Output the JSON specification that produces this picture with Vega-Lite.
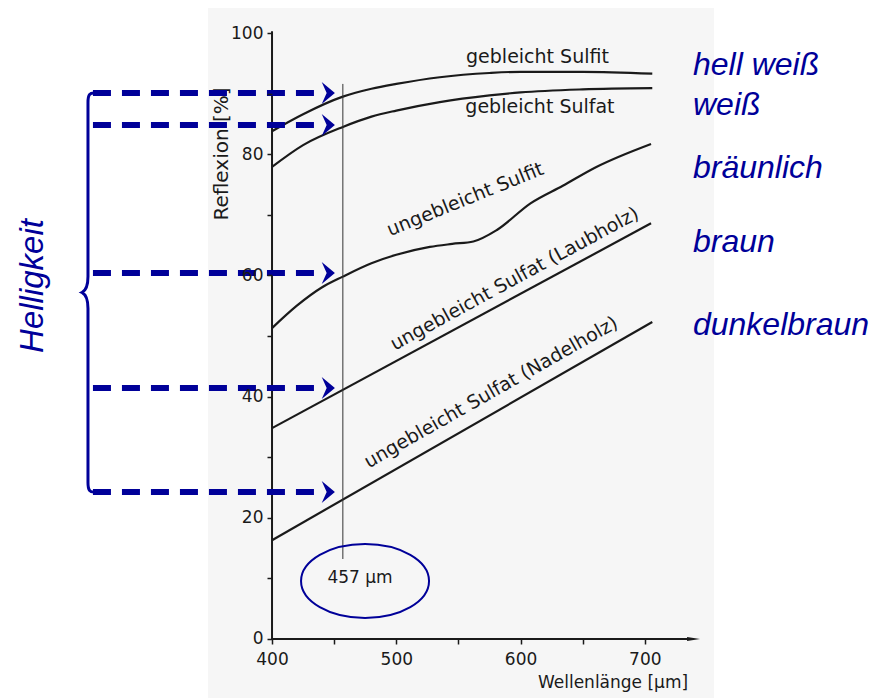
{
  "$schema": "https://vega.github.io/schema/vega-lite/v6.json",
  "width": 870,
  "height": 698,
  "padding": 0,
  "autosize": {"type": "fit", "contains": "padding"},
  "background": "white",
  "view": {"stroke": null},
  "datasets": {
    "curves": [
      {"series": "gebleicht Sulfit", "x": 400, "y": 83.8},
      {"series": "gebleicht Sulfit", "x": 425, "y": 86.6},
      {"series": "gebleicht Sulfit", "x": 457, "y": 89.5},
      {"series": "gebleicht Sulfit", "x": 480, "y": 90.8},
      {"series": "gebleicht Sulfit", "x": 500, "y": 91.6},
      {"series": "gebleicht Sulfit", "x": 535, "y": 92.7},
      {"series": "gebleicht Sulfit", "x": 575, "y": 93.4},
      {"series": "gebleicht Sulfit", "x": 600, "y": 93.6},
      {"series": "gebleicht Sulfit", "x": 650, "y": 93.6},
      {"series": "gebleicht Sulfit", "x": 706, "y": 93.3},
      {"series": "gebleicht Sulfat", "x": 400, "y": 77.9},
      {"series": "gebleicht Sulfat", "x": 425, "y": 81.5},
      {"series": "gebleicht Sulfat", "x": 457, "y": 84.5},
      {"series": "gebleicht Sulfat", "x": 480, "y": 86.2},
      {"series": "gebleicht Sulfat", "x": 500, "y": 87.2},
      {"series": "gebleicht Sulfat", "x": 535, "y": 88.6},
      {"series": "gebleicht Sulfat", "x": 575, "y": 89.7},
      {"series": "gebleicht Sulfat", "x": 600, "y": 90.2},
      {"series": "gebleicht Sulfat", "x": 650, "y": 90.7},
      {"series": "gebleicht Sulfat", "x": 706, "y": 90.9},
      {"series": "ungebleicht Sulfit", "x": 400, "y": 51.3},
      {"series": "ungebleicht Sulfit", "x": 420, "y": 55.0},
      {"series": "ungebleicht Sulfit", "x": 440, "y": 58.0},
      {"series": "ungebleicht Sulfit", "x": 457, "y": 59.8},
      {"series": "ungebleicht Sulfit", "x": 480, "y": 62.0},
      {"series": "ungebleicht Sulfit", "x": 500, "y": 63.4},
      {"series": "ungebleicht Sulfit", "x": 527, "y": 64.7},
      {"series": "ungebleicht Sulfit", "x": 545, "y": 65.2},
      {"series": "ungebleicht Sulfit", "x": 562, "y": 65.6},
      {"series": "ungebleicht Sulfit", "x": 581, "y": 67.5},
      {"series": "ungebleicht Sulfit", "x": 608, "y": 71.9},
      {"series": "ungebleicht Sulfit", "x": 634, "y": 74.8},
      {"series": "ungebleicht Sulfit", "x": 661, "y": 77.9},
      {"series": "ungebleicht Sulfit", "x": 705, "y": 81.7},
      {"series": "ungebleicht Sulfat (Laubholz)", "x": 400, "y": 34.8},
      {"series": "ungebleicht Sulfat (Laubholz)", "x": 705, "y": 68.6},
      {"series": "ungebleicht Sulfat (Nadelholz)", "x": 400, "y": 16.3},
      {"series": "ungebleicht Sulfat (Nadelholz)", "x": 706, "y": 52.3}
    ],
    "arrows": [
      {"color": "hell weiß", "x": 255.9, "x2": 433.8, "xh": 445.3, "y": 90.1},
      {"color": "weiß", "x": 255.9, "x2": 433.8, "xh": 445.3, "y": 84.82},
      {"color": "bräunlich", "x": 255.9, "x2": 433.8, "xh": 445.3, "y": 60.4},
      {"color": "braun", "x": 255.9, "x2": 433.8, "xh": 445.3, "y": 41.42},
      {"color": "dunkelbraun", "x": 255.9, "x2": 433.8, "xh": 445.3, "y": 24.26}
    ],
    "colorLabels": [
      {"text": "hell weiß", "x": 738.75, "y": 93.07},
      {"text": "weiß", "x": 738.75, "y": 86.47},
      {"text": "bräunlich", "x": 738.75, "y": 76.08},
      {"text": "braun", "x": 738.75, "y": 63.86},
      {"text": "dunkelbraun", "x": 738.75, "y": 50.17}
    ]
  },
  "encoding": {
    "x": {
      "field": "x", "type": "quantitative",
      "scale": {"domain": [181.1, 881.2], "nice": false, "zero": false},
      "axis": {
        "orient": "bottom", "offset": -59, "domain": false, "grid": false, "title": null,
        "values": [400, 450, 500, 550, 600, 650, 700],
        "labelExpr": "datum.value % 100 === 0 ? datum.label : ''",
        "tickSize": 5, "tickWidth": 1.5, "tickColor": "#1a1a1a",
        "labelFont": "DejaVu Sans", "labelFontSize": 17, "labelColor": "#1a1a1a",
        "labelPadding": 7, "labelFlush": false, "labelOverlap": false, "zindex": 1
      }
    },
    "y": {
      "field": "y", "type": "quantitative",
      "scale": {"domain": [-9.74, 105.45], "nice": false, "zero": false},
      "axis": {
        "orient": "left", "offset": -272, "domain": false, "grid": false, "title": null,
        "values": [0, 10, 20, 30, 40, 50, 60, 70, 80, 90, 100],
        "labelExpr": "datum.value % 20 === 0 ? datum.label : ''",
        "tickSize": 5, "tickWidth": 1.5, "tickColor": "#1a1a1a",
        "labelFont": "DejaVu Sans", "labelFontSize": 17, "labelColor": "#1a1a1a",
        "labelPadding": 4, "labelFlush": false, "labelOverlap": false, "zindex": 1
      }
    }
  },
  "layer": [
    {
      "data": {"values": [{"x": 348.5, "x2": 755.6, "y": 104.13, "y2": -9.74}]},
      "mark": {"type": "rect", "color": "#f6f6f6"},
      "encoding": {"x2": {"field": "x2"}, "y2": {"field": "y2"}}
    },
    {
      "data": {"name": "curves"},
      "mark": {"type": "line", "color": "#1a1a1a", "strokeWidth": 2.2, "interpolate": "monotone"},
      "encoding": {"detail": {"field": "series"}}
    },
    {
      "data": {"values": [{"x": 400, "x2": 737, "y": 0}]},
      "mark": {"type": "rule", "color": "#1a1a1a", "strokeWidth": 2},
      "encoding": {"x2": {"field": "x2"}}
    },
    {
      "data": {"values": [{"x": 400, "y": 0, "y2": 100.3}]},
      "mark": {"type": "rule", "color": "#1a1a1a", "strokeWidth": 2},
      "encoding": {"y2": {"field": "y2"}}
    },
    {
      "data": {"values": [{"x": 739.2, "y": 0}]},
      "mark": {"type": "point", "shape": "M -1 -0.3 L 1 0 L -1 0.3 Z", "size": 169, "filled": true, "color": "#1a1a1a", "opacity": 1}
    },
    {
      "data": {"values": [{"x": 457, "y": 13.2, "y2": 91.6}]},
      "mark": {"type": "rule", "color": "#333333", "strokeWidth": 1},
      "encoding": {"y2": {"field": "y2"}}
    },
    {
      "data": {"values": [{"text": "gebleicht  Sulfit", "x": 613.6, "y": 95.05}]},
      "mark": {"type": "text", "font": "DejaVu Sans", "fontSize": 19, "color": "#1a1a1a", "align": "center", "baseline": "alphabetic"},
      "encoding": {"text": {"field": "text"}}
    },
    {
      "data": {"values": [{"text": "gebleicht  Sulfat", "x": 615.6, "y": 86.8}]},
      "mark": {"type": "text", "font": "DejaVu Sans", "fontSize": 19, "color": "#1a1a1a", "align": "center", "baseline": "alphabetic"},
      "encoding": {"text": {"field": "text"}}
    },
    {
      "data": {"values": [{"text": "ungebleicht  Sulfit", "x": 557.3, "y": 71.62}]},
      "mark": {"type": "text", "font": "DejaVu Sans", "fontSize": 19, "color": "#1a1a1a", "align": "center", "baseline": "alphabetic", "angle": -22},
      "encoding": {"text": {"field": "text"}}
    },
    {
      "data": {"values": [{"text": "ungebleicht  Sulfat (Laubholz)", "x": 597.5, "y": 58.58}]},
      "mark": {"type": "text", "font": "DejaVu Sans", "fontSize": 19, "color": "#1a1a1a", "align": "center", "baseline": "alphabetic", "angle": -28.5},
      "encoding": {"text": {"field": "text"}}
    },
    {
      "data": {"values": [{"text": "ungebleicht  Sulfat (Nadelholz)", "x": 578.6, "y": 39.85}]},
      "mark": {"type": "text", "font": "DejaVu Sans", "fontSize": 19, "color": "#1a1a1a", "align": "center", "baseline": "alphabetic", "angle": -29.5},
      "encoding": {"text": {"field": "text"}}
    },
    {
      "data": {"values": [{"text": "Reflexion [%]", "x": 364.6, "y": 80.04}]},
      "mark": {"type": "text", "font": "DejaVu Sans", "fontSize": 20, "color": "#1a1a1a", "align": "center", "baseline": "alphabetic", "angle": -90},
      "encoding": {"text": {"field": "text"}}
    },
    {
      "data": {"values": [{"text": "Wellenlänge [µm]", "x": 674.4, "y": -8.09}]},
      "mark": {"type": "text", "font": "DejaVu Sans", "fontSize": 17, "color": "#1a1a1a", "align": "center", "baseline": "alphabetic"},
      "encoding": {"text": {"field": "text"}}
    },
    {
      "data": {"values": [{"text": "457 µm", "x": 470.8, "y": 9.24}]},
      "mark": {"type": "text", "font": "DejaVu Sans", "fontSize": 17, "color": "#1a1a1a", "align": "center", "baseline": "alphabetic"},
      "encoding": {"text": {"field": "text"}}
    },
    {
      "data": {"values": [{"x": 474.85, "y": 9.57}]},
      "mark": {"type": "point", "shape": "M 1 0 C 1 0.3192 0.5523 0.578 0 0.578 C -0.5523 0.578 -1 0.3192 -1 0 C -1 -0.3192 -0.5523 -0.578 0 -0.578 C 0.5523 -0.578 1 -0.3192 1 0 Z", "size": 16384, "filled": false, "color": "#000099", "strokeWidth": 2, "opacity": 1}
    },
    {
      "data": {"name": "arrows"},
      "mark": {"type": "rule", "color": "#000099", "strokeWidth": 6, "strokeDash": [18, 11], "strokeCap": "butt"},
      "encoding": {"x2": {"field": "x2"}}
    },
    {
      "data": {"name": "arrows"},
      "mark": {"type": "point", "shape": "M -0.6 -1 L 0.6 0 L -0.6 1 L -0.15 0 Z", "size": 484, "filled": true, "color": "#000099", "opacity": 1},
      "encoding": {"x": {"field": "xh", "type": "quantitative"}}
    },
    {
      "data": {"values": [{"x": 251.9, "y": 57.18}]},
      "mark": {"type": "point", "shape": "M 0.03 -0.998 C 0.01 -0.998 0 -0.99 0 -0.95 L 0 -0.08 C 0 -0.03 -0.01 -0.01 -0.03 0 C -0.01 0.01 0 0.03 0 0.08 L 0 0.95 C 0 0.99 0.01 0.998 0.03 0.998", "size": 160000, "filled": false, "color": "#000099", "strokeWidth": 3, "opacity": 1}
    },
    {
      "data": {"values": [{"text": "Helligkeit", "x": 215.7, "y": 58.25}]},
      "mark": {"type": "text", "font": "Liberation Sans", "fontStyle": "italic", "fontSize": 33, "color": "#000099", "align": "center", "baseline": "alphabetic", "angle": -90},
      "encoding": {"text": {"field": "text"}}
    },
    {
      "data": {"name": "colorLabels"},
      "mark": {"type": "text", "font": "Liberation Sans", "fontStyle": "italic", "fontSize": 32, "color": "#000099", "align": "left", "baseline": "alphabetic"},
      "encoding": {"text": {"field": "text"}}
    }
  ]
}
